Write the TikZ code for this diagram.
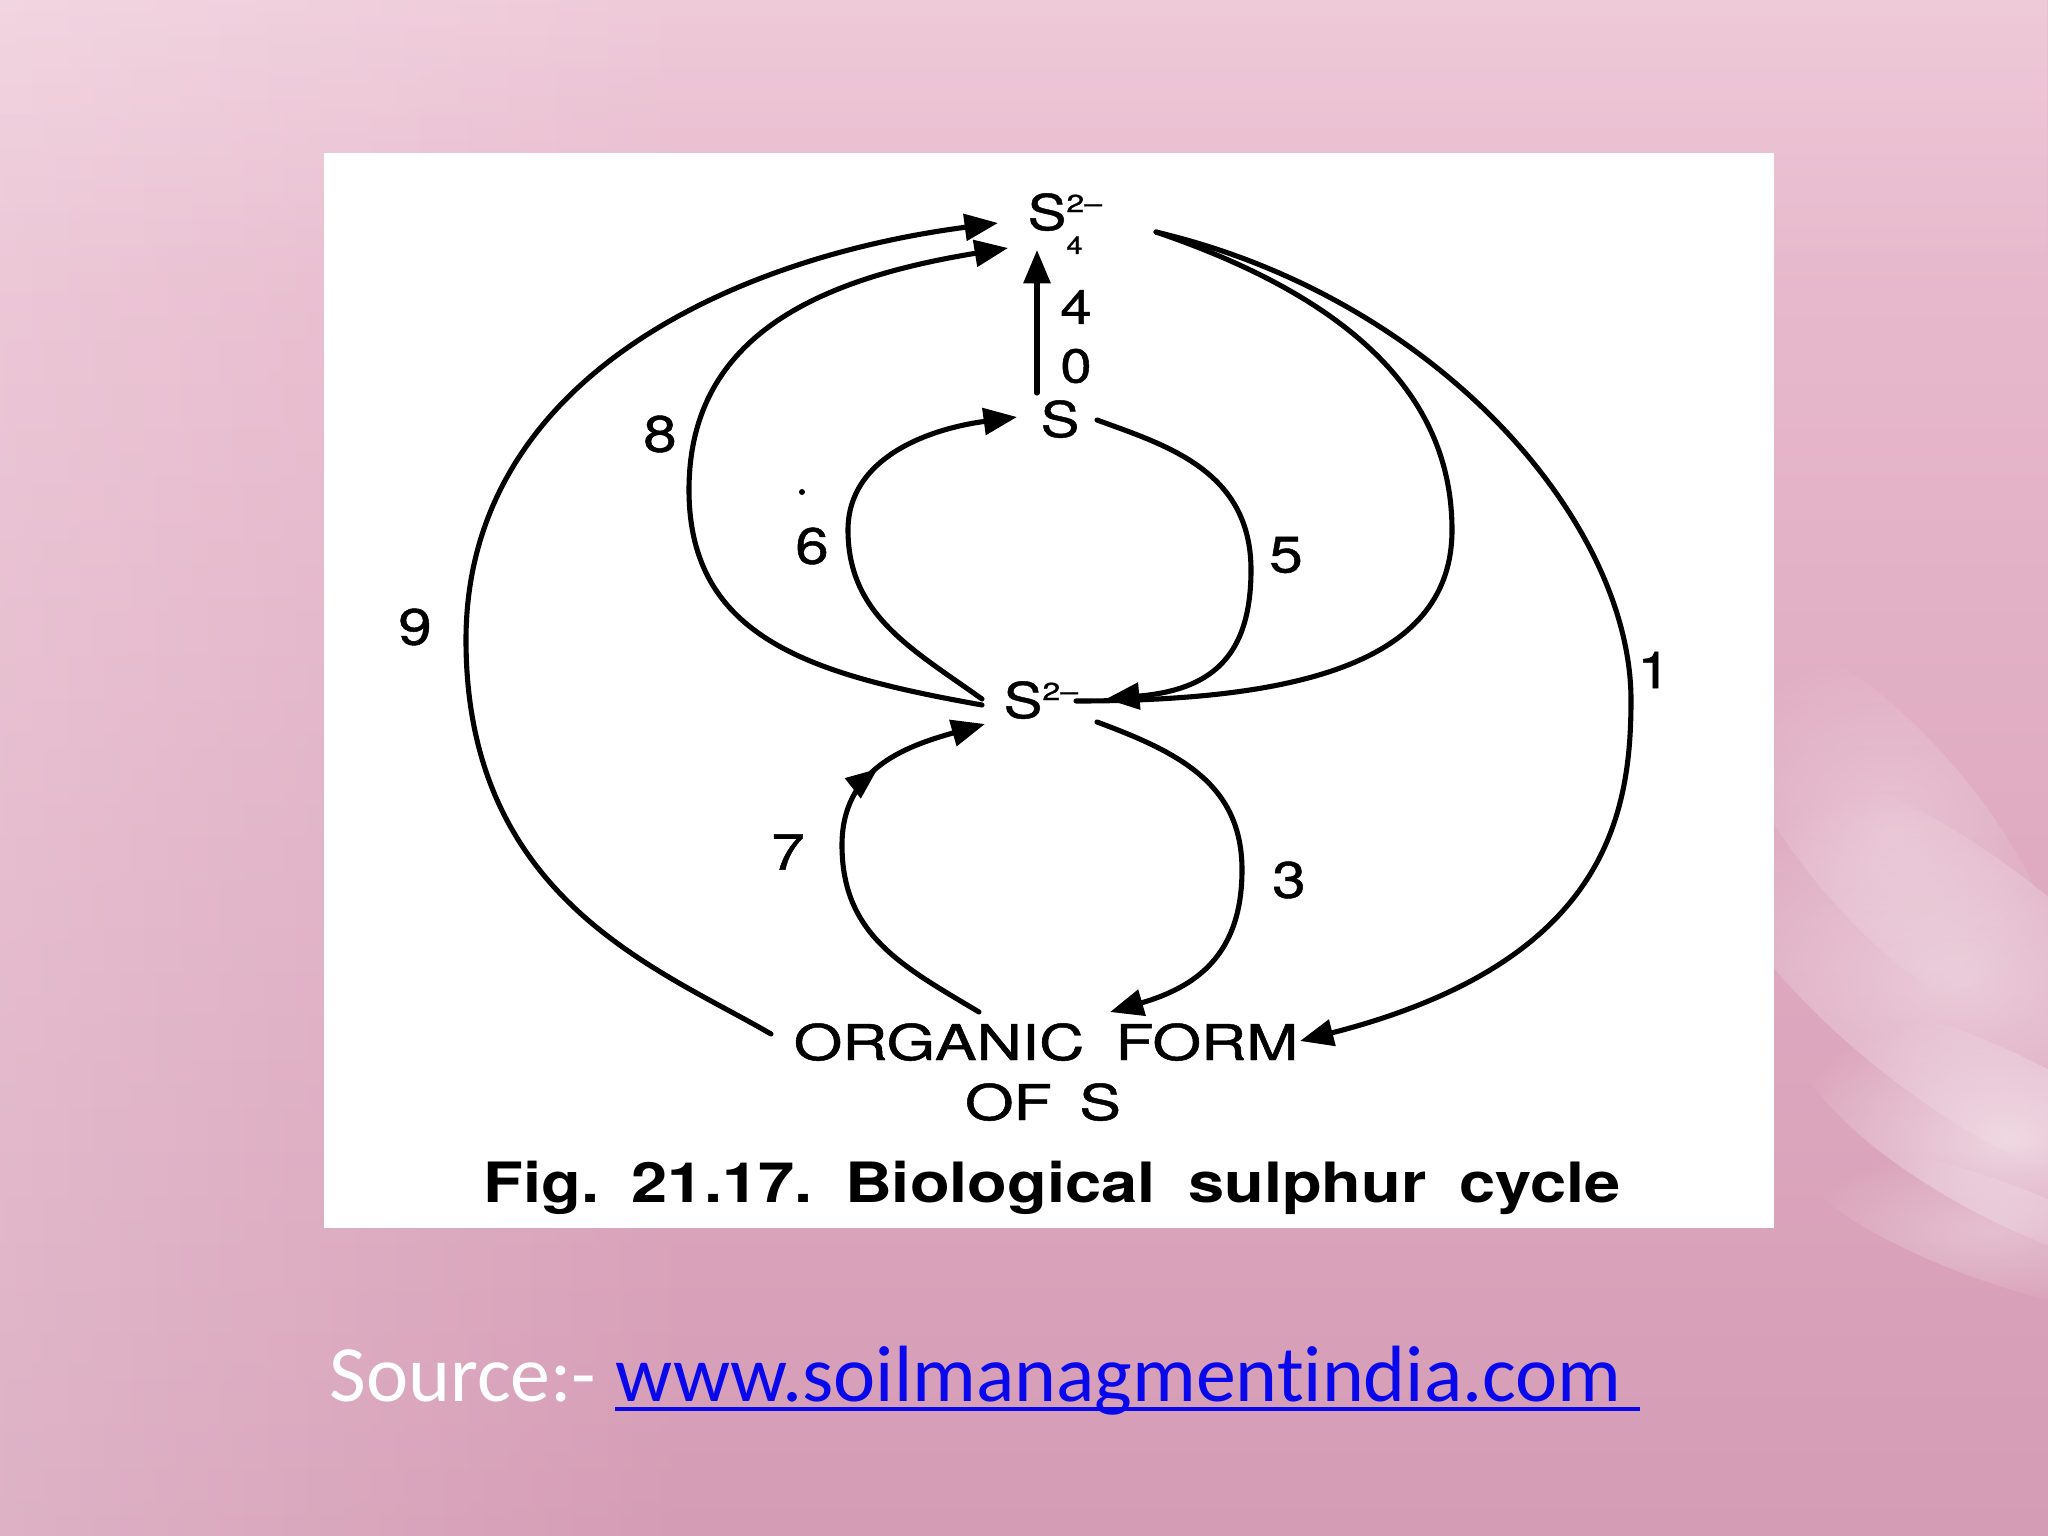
\documentclass[tikz,border=0pt]{standalone}
\usepackage{fontspec}
\setmainfont{TeX Gyre Heros}
\newfontfamily\diag[FakeBold=0.9]{TeX Gyre Heros}
\newfontfamily\srcfont[Ligatures={NoCommon,NoRequired,NoContextual}]{Carlito}
\usetikzlibrary{arrows.meta,decorations.markings,fadings}
\definecolor{bgtop}{RGB}{235,190,208}
\definecolor{bgbot}{RGB}{213,156,181}
\definecolor{urlblue}{RGB}{8,8,235}
\newcommand{\xwide}[1]{\scalebox{1.18}[1]{#1}}
\newcommand{\supmin}{\rlap{\raisebox{5.1pt}{\fontsize{7}{8}\selectfont\scalebox{1.3}[1]{2–}}}}
\tikzfading[name=fadeR, left color=transparent!0, right color=transparent!100]
\tikzfading[name=fadeD, top color=transparent!0, bottom color=transparent!100]
\tikzfading[name=fuzzy, inner color=transparent!10, outer color=transparent!100]
\begin{document}
\begin{tikzpicture}[x=0.01cm,y=-0.01cm,
  conn/.style={line width=1.45pt, line cap=round},
  arr/.style={conn, -{Triangle[length=9.5pt,width=7.5pt]}},
  lbl/.style={inner sep=0pt, font=\diag\fontsize{14}{16}\selectfont},
  num/.style={inner sep=0pt, font=\diag\fontsize{14.5}{16}\selectfont},
  numsm/.style={inner sep=0pt, font=\diag\fontsize{13.5}{16}\selectfont},
  midarrow/.style={postaction={decorate}, decoration={markings,
     mark=at position #1 with {\arrow{Triangle[length=9pt,width=7pt]}}}}]
\useasboundingbox (0,0) rectangle (2048,1536);
% background
\shade[top color=bgtop, bottom color=bgbot] (0,0) rectangle (2048,1536);
\fill[white, fill opacity=0.22, path fading=fadeR] (0,0) rectangle (700,1536);
\fill[white, fill opacity=0.18, path fading=fadeD] (0,0) rectangle (2048,300);
% feather on the right
\fill[white, fill opacity=0.45, path fading=fuzzy, rotate around={-38:(1960,980)}] (1960,980) ellipse [x radius=320, y radius=120];
\fill[white, fill opacity=0.6, path fading=fuzzy, rotate around={-28:(2010,1140)}] (2010,1140) ellipse [x radius=240, y radius=80];
\fill[white, fill opacity=0.3, path fading=fuzzy, rotate around={-50:(1890,830)}] (1890,830) ellipse [x radius=240, y radius=90];
\fill[white, fill opacity=0.35, path fading=fuzzy, rotate around={-20:(1990,1230)}] (1990,1230) ellipse [x radius=200, y radius=50];
% white panel
\fill[white] (324,153) rectangle (1774,1228);

% species
\node[lbl, anchor=base west] (s4) at (1027,230) {\xwide{S}\supmin\raisebox{-6.8pt}{\fontsize{7}{8}\selectfont\xwide{4}}};
\node[lbl, anchor=base west] (smid) at (1040,437) {\xwide{S}};
\node[lbl, anchor=base west] (s2) at (1003,718) {\xwide{S}\supmin};
\node[lbl, anchor=base] (org) at (1046,1060) {\scalebox{1.27}[1]{ORGANIC\hspace{0.5em}FORM}};
\node[lbl, anchor=base] (ofs) at (1043,1120) {\scalebox{1.27}[1]{OF\hspace{0.44em}S}};
\node[inner sep=0pt, anchor=base west, font=\fontsize{15.8}{18}\selectfont\bfseries] (cap) at (483,1202)
  {\scalebox{1.17}[1]{Fig.\hspace{0.5em}21.17.\hspace{0.5em}Biological\hspace{0.5em}sulphur\hspace{0.5em}cycle}};

% labels
\node[num] (l9) at (415,627) {\xwide{9}};
\node[num] (l8) at (660,434) {\xwide{8}};
\node[num] (l6) at (812,546) {\xwide{6}};
\node[num] (l5) at (1286,555) {\xwide{5}};
\node[num] (l1) at (1654,670) {\xwide{1}};
\node[num] (l7) at (788,852) {\xwide{7}};
\node[num] (l3) at (1289,880) {\xwide{3}};
\node[numsm] (l4) at (1076,307) {\xwide{4}};
\node[numsm] (l0) at (1076,366) {\xwide{0}};
\fill (802,492) circle (3);

% connector end points
\coordinate (a9) at (771,1034); \coordinate (m9) at (466,640); \coordinate (b9) at (998,223);
\coordinate (a8) at (982,705);  \coordinate (m8) at (689,490); \coordinate (b8) at (1008,248);
\coordinate (a6) at (982,699);  \coordinate (m6) at (848,530); \coordinate (b6) at (1017,417);
\coordinate (a5) at (1097,420); \coordinate (m5) at (1251,570); \coordinate (b5) at (1106,699);
\coordinate (aR) at (1156,232); \coordinate (mR) at (1452,530); \coordinate (bR) at (1076,701);
\coordinate (a1) at (1156,232); \coordinate (m1) at (1631,700); \coordinate (b1) at (1300,1041);
\coordinate (a3) at (1097,722); \coordinate (m3) at (1242,870); \coordinate (b3) at (1110,1012);
\coordinate (a7) at (979,1012); \coordinate (m7) at (842,845); \coordinate (b7) at (985,724);
\coordinate (a40) at (1037,393); \coordinate (b40) at (1037,250);

% connectors
\draw[arr] (a9) .. controls (660,969) and (466,900) .. (m9) .. controls (466,380) and (730,258) .. (b9);
\draw[arr] (a8) .. controls (815,675) and (689,640) .. (m8) .. controls (689,340) and (811,280) .. (b8);
\draw[arr] (a6) .. controls (912,649) and (848,615) .. (m6) .. controls (848,458) and (928,429) .. (b6);
\draw[arr] (a5) .. controls (1165,445) and (1251,470) .. (m5) .. controls (1251,660) and (1208,690) .. (b5);
\draw[conn] (aR) .. controls (1326,290) and (1452,380) .. (mR) .. controls (1452,660) and (1305,701) .. (bR);
\draw[arr] (a1) .. controls (1440,299) and (1631,524) .. (m1) .. controls (1631,817) and (1605,963) .. (b1);
\draw[arr] (a3) .. controls (1181,753) and (1242,785) .. (m3) .. controls (1242,955) and (1196,987) .. (b3);
\draw[arr, midarrow=0.73] (a7) .. controls (902,966) and (842,935) .. (m7) .. controls (842,770) and (903,747) .. (b7);
\draw[arr] (a40) -- (b40);

% source line
\node[inner sep=0pt, anchor=base west, text=white, font=\srcfont\fontsize{22.7}{26}\selectfont] (src) at (329,1401) {Source:-\ \null};
\node[inner sep=0pt, anchor=base west, text=urlblue, font=\srcfont\fontsize{22.7}{26}\selectfont] (url) at (src.base east) {www.soilmanagmentindia.com\ \null};
\draw[urlblue, line width=1.2pt] ([yshift=-2.2pt]url.base west) -- ([yshift=-2.2pt]url.base east);
\end{tikzpicture}
\end{document}
